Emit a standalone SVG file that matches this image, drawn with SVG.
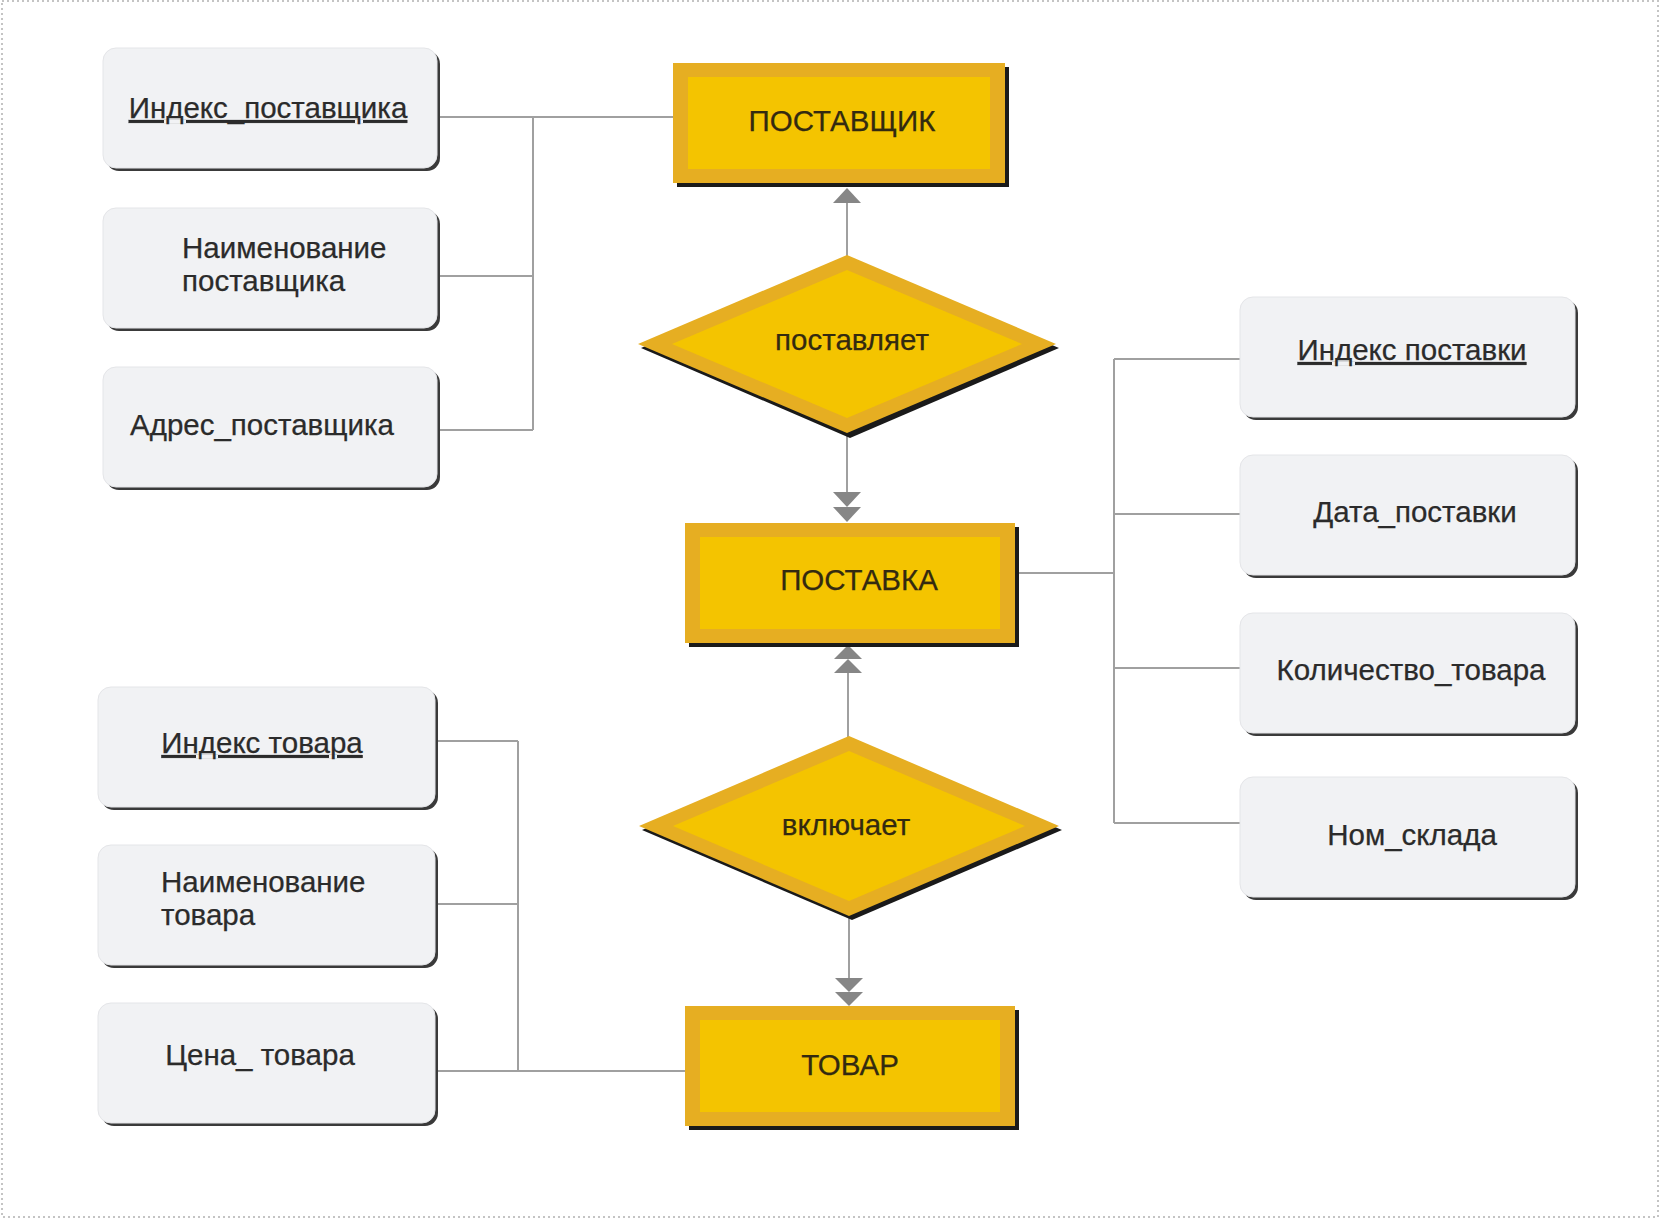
<svg xmlns="http://www.w3.org/2000/svg" width="1662" height="1220" viewBox="0 0 1662 1220">
<defs>
<style>
.frame{fill:#fff;stroke:#c4c4c4;stroke-width:2;stroke-dasharray:2 3}
.attr-sh{fill:#3a3a3a}
.attr{fill:#f1f2f4;stroke:#e4e5e8;stroke-width:1}
.ent-sh{fill:#1a1a1a}
.ent-o{fill:#e6ae22}
.ent-i{fill:#f4c400}
.t{font-family:"Liberation Sans",Arial,sans-serif;font-size:29.5px;fill:#2b2b2b;stroke:#2b2b2b;stroke-width:0.25}
.m{text-anchor:middle}
.u{text-decoration:underline}
.et{font-family:"Liberation Sans",Arial,sans-serif;font-size:29.5px;fill:#332a10;stroke:#332a10;stroke-width:0.25;text-anchor:middle}
.ln{stroke:#a0a0a0;stroke-width:2;fill:none}
.ah{fill:#868686}
</style>
</defs>
<rect class="frame" x="2" y="1" width="1656" height="1216"/>

<g id="connectors">
  <path class="ln" d="M440 117H673M533 117V430M440 276H533M440 430H533"/>
  <path class="ln" d="M1114 359V823M1114 359H1240M1114 514H1240M1114 668H1240M1114 823H1240M1018 573H1114"/>
  <path class="ln" d="M518 741V1071M438 741H518M438 904H518M438 1071H685"/>
  <path class="ln" d="M847 203V256"/>
  <path class="ln" d="M847 433V493"/>
  <path class="ln" d="M848 673V737"/>
  <path class="ln" d="M849 916V978"/>
  <polygon class="ah" points="847,188 861,203 833,203"/>
  <polygon class="ah" points="833,492 861,492 847,507"/>
  <polygon class="ah" points="833,507 861,507 847,522"/>
  <polygon class="ah" points="848,645 862,659 834,659"/>
  <polygon class="ah" points="848,659 862,673 834,673"/>
  <polygon class="ah" points="835,978 863,978 849,992"/>
  <polygon class="ah" points="835,992 863,992 849,1006"/>
</g>

<g id="attr-index-supplier">
  <rect class="attr-sh" x="106" y="51" width="334" height="120" rx="13"/>
  <rect class="attr" x="103" y="48" width="334" height="120" rx="13"/>
  <text class="t m u" x="268" y="118">Индекс_поставщика</text>
</g>
<g id="attr-name-supplier">
  <rect class="attr-sh" x="106" y="211" width="334" height="120" rx="13"/>
  <rect class="attr" x="103" y="208" width="334" height="120" rx="13"/>
  <text class="t" x="182" y="258">Наименование</text>
  <text class="t" x="182" y="291">поставщика</text>
</g>
<g id="attr-address-supplier">
  <rect class="attr-sh" x="106" y="370" width="334" height="120" rx="13"/>
  <rect class="attr" x="103" y="367" width="334" height="120" rx="13"/>
  <text class="t m" x="262" y="435">Адрес_поставщика</text>
</g>

<g id="attr-index-delivery">
  <rect class="attr-sh" x="1243" y="300" width="335" height="120" rx="13"/>
  <rect class="attr" x="1240" y="297" width="335" height="120" rx="13"/>
  <text class="t m u" x="1412" y="360">Индекс поставки</text>
</g>
<g id="attr-date-delivery">
  <rect class="attr-sh" x="1243" y="458" width="335" height="120" rx="13"/>
  <rect class="attr" x="1240" y="455" width="335" height="120" rx="13"/>
  <text class="t m" x="1415" y="522">Дата_поставки</text>
</g>
<g id="attr-qty">
  <rect class="attr-sh" x="1243" y="616" width="335" height="120" rx="13"/>
  <rect class="attr" x="1240" y="613" width="335" height="120" rx="13"/>
  <text class="t m" x="1411" y="680">Количество_товара</text>
</g>
<g id="attr-warehouse">
  <rect class="attr-sh" x="1243" y="780" width="335" height="120" rx="13"/>
  <rect class="attr" x="1240" y="777" width="335" height="120" rx="13"/>
  <text class="t m" x="1412" y="845">Ном_склада</text>
</g>

<g id="attr-index-goods">
  <rect class="attr-sh" x="101" y="690" width="337" height="120" rx="13"/>
  <rect class="attr" x="98" y="687" width="337" height="120" rx="13"/>
  <text class="t m u" x="262" y="753">Индекс товара</text>
</g>
<g id="attr-name-goods">
  <rect class="attr-sh" x="101" y="848" width="337" height="120" rx="13"/>
  <rect class="attr" x="98" y="845" width="337" height="120" rx="13"/>
  <text class="t" x="161" y="892">Наименование</text>
  <text class="t" x="161" y="925">товара</text>
</g>
<g id="attr-price-goods">
  <rect class="attr-sh" x="101" y="1006" width="337" height="120" rx="13"/>
  <rect class="attr" x="98" y="1003" width="337" height="120" rx="13"/>
  <text class="t m" x="260" y="1065">Цена_ товара</text>
</g>

<g id="entity-supplier">
  <rect class="ent-sh" x="677" y="67" width="332" height="120"/>
  <rect class="ent-o" x="673" y="63" width="332" height="120"/>
  <rect class="ent-i" x="688" y="77" width="302" height="92"/>
  <text class="et" x="842" y="131">ПОСТАВЩИК</text>
</g>
<g id="rel-supplies">
  <polygon class="ent-sh" points="850,259 1059,348 850,438 641,348"/>
  <polygon class="ent-o" points="847,255 1056,344 847,433 638,344"/>
  <polygon class="ent-i" points="847,270 1022,344 847,418 672,344"/>
  <text class="et" x="852" y="350">поставляет</text>
</g>
<g id="entity-delivery">
  <rect class="ent-sh" x="689" y="527" width="330" height="120"/>
  <rect class="ent-o" x="685" y="523" width="330" height="120"/>
  <rect class="ent-i" x="700" y="537" width="300" height="92"/>
  <text class="et" x="859" y="590">ПОСТАВКА</text>
</g>
<g id="rel-includes">
  <polygon class="ent-sh" points="852,740 1062,830 852,920 642,830"/>
  <polygon class="ent-o" points="849,736 1059,826 849,916 639,826"/>
  <polygon class="ent-i" points="849,751 1025,826 849,901 673,826"/>
  <text class="et" x="846" y="835">включает</text>
</g>
<g id="entity-goods">
  <rect class="ent-sh" x="689" y="1010" width="330" height="120"/>
  <rect class="ent-o" x="685" y="1006" width="330" height="120"/>
  <rect class="ent-i" x="700" y="1020" width="300" height="92"/>
  <text class="et" x="850" y="1075">ТОВАР</text>
</g>
</svg>
